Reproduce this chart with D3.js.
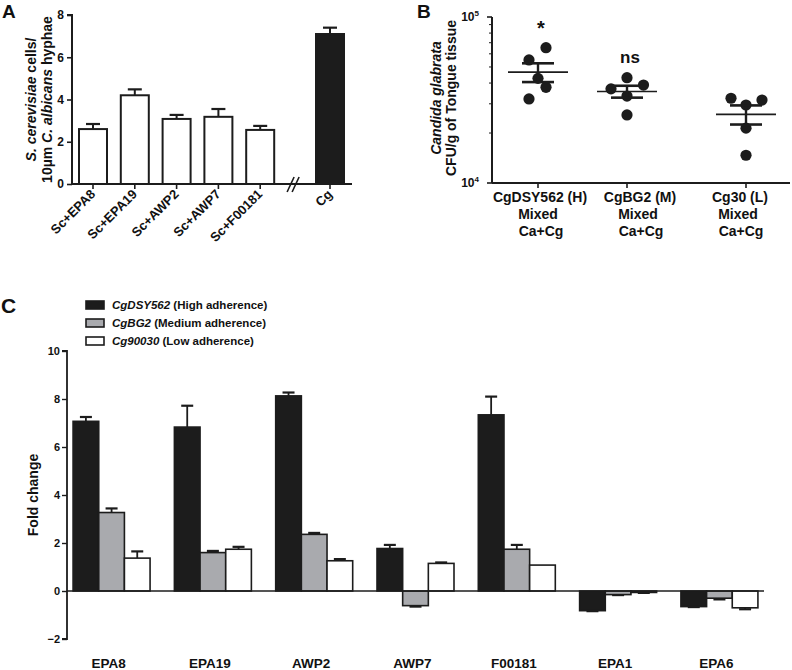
<!DOCTYPE html>
<html>
<head>
<meta charset="utf-8">
<script src="https://cdn.jsdelivr.net/npm/d3@7"></script>
<style>
  html, body { margin: 0; padding: 0; background: #fff; }
  svg { display: block; font-family: "Liberation Sans", Arial, sans-serif; }
  text { font-weight: bold; fill: #111; }
</style>
</head>
<body>
<svg id="chart" width="792" height="670"></svg>
<script>
// ---------------- DATA ----------------
// Panel A
const aCategories = ["Sc+EPA8", "Sc+EPA19", "Sc+AWP2", "Sc+AWP7", "Sc+F00181", "Cg"];
const aValues = [2.6, 4.2, 3.08, 3.18, 2.56, 7.1];
const aErrors = [0.24, 0.28, 0.19, 0.37, 0.19, 0.3];
const aYTicks = [0, 2, 4, 6, 8];

// Panel B (CFU/g of tongue tissue, log axis)
const bGroups = ["CgDSY562 (H)", "CgBG2 (M)", "Cg30 (L)"];
const bSubLines = ["Mixed", "Ca+Cg"];
const bDots = [
  [65300, 55100, 42700, 37700, 32100],
  [43100, 38900, 36900, 33400, 25700],
  [32400, 29500, 31600, 21400, 14700]
];
const bSignif = ["*", "ns", ""];
const bYTicks = [1e4, 1e5];

// Panel C
const cCategories = ["EPA8", "EPA19", "AWP2", "AWP7", "F00181", "EPA1", "EPA6"];
const cSeriesNames = ["CgDSY562", "CgBG2", "Cg90030"];
const cSeriesNotes = ["(High adherence)", "(Medium adherence)", "(Low adherence)"];
const cHigh   = [7.07, 6.83, 8.13, 1.77, 7.34, -0.82, -0.65];
const cMedium = [3.27, 1.60, 2.36, -0.61, 1.74, -0.15, -0.30];
const cLow    = [1.37, 1.74, 1.26, 1.15, 1.08, -0.06, -0.70];
const cHighErr   = [0.18, 0.89, 0.14, 0.15, 0.76, 0.02, 0.02];
const cMediumErr = [0.17, 0.07, 0.06, 0.04, 0.18, 0.02, 0.05];
const cLowErr    = [0.28, 0.10, 0.07, 0.04, 0.00, 0.02, 0.06];
const cYTicks = [-2, 0, 2, 4, 6, 8, 10];

// ---------------- LAYOUT / STYLE ----------------
const BLACK = "#1c1c1c";
const GRAY = "#a9aaae";
const svg = d3.select("#chart");

function tickLabelFont(sel, size) {
  sel.attr("font-size", size).attr("font-weight", "bold");
}

// =============== PANEL A ===============
(function () {
  const g = svg.append("g");
  const x0 = 72, y0 = 184, yTop = 15, xEnd = 352;
  const breakGap = 0.67;
  const last = aCategories.length - 1;
  const slot = aCategories.map((c, i) => i < last ? i : i + breakGap);
  const x = d3.scaleLinear().domain([0, 1]).range([93, 134.8]);
  const y = d3.scaleLinear().domain([0, 8]).range([y0, yTop]);
  const bw = 28;

  // bars
  g.selectAll("rect.bar").data(aCategories).join("rect")
    .attr("x", (d, i) => x(slot[i]) - bw / 2)
    .attr("y", (d, i) => y(aValues[i]))
    .attr("width", bw)
    .attr("height", (d, i) => y(0) - y(aValues[i]))
    .attr("fill", (d, i) => d === "Cg" ? BLACK : "#fff")
    .attr("stroke", BLACK).attr("stroke-width", 2);

  // error bars
  const eb = g.selectAll("g.err").data(aCategories).join("g");
  eb.append("line")
    .attr("x1", (d, i) => x(slot[i])).attr("x2", (d, i) => x(slot[i]))
    .attr("y1", (d, i) => y(aValues[i])).attr("y2", (d, i) => y(aValues[i] + aErrors[i]))
    .attr("stroke", BLACK).attr("stroke-width", 2);
  eb.append("line")
    .attr("x1", (d, i) => x(slot[i]) - 7).attr("x2", (d, i) => x(slot[i]) + 7)
    .attr("y1", (d, i) => y(aValues[i] + aErrors[i])).attr("y2", (d, i) => y(aValues[i] + aErrors[i]))
    .attr("stroke", BLACK).attr("stroke-width", 2.2);

  // y axis
  const yAxis = d3.axisLeft(y).tickValues(aYTicks).tickSize(5).tickPadding(3).tickFormat(d3.format("d"));
  const ya = g.append("g").attr("transform", `translate(${x0},0)`).call(yAxis);
  ya.select(".domain").attr("stroke", BLACK).attr("stroke-width", 2).attr("d", `M-5,${yTop}H0V${y0}`);
  ya.selectAll(".tick line").attr("stroke", BLACK).attr("stroke-width", 1.6);
  ya.selectAll(".tick text").call(tickLabelFont, 12).attr("fill", "#111").attr("font-family", null);

  // x axis
  g.append("line").attr("x1", x0).attr("x2", xEnd).attr("y1", y0).attr("y2", y0)
    .attr("stroke", BLACK).attr("stroke-width", 2);
  g.selectAll("line.xt").data(aCategories).join("line")
    .attr("x1", (d, i) => x(slot[i])).attr("x2", (d, i) => x(slot[i]))
    .attr("y1", y0).attr("y2", y0 + 5).attr("stroke", BLACK).attr("stroke-width", 1.6);
  g.selectAll("text.xl").data(aCategories).join("text")
    .attr("transform", (d, i) => `translate(${x(slot[i]) + 3},${y0 + 11}) rotate(-45)`)
    .attr("text-anchor", "end").attr("font-size", 13).text(d => d);

  // break marks
  const bx = (x(slot[last - 1]) + x(slot[last])) / 2 - 2;
  [-3, 2].forEach(o => {
    g.append("line").attr("x1", bx + o - 3).attr("x2", bx + o + 4)
      .attr("y1", y0 + 8).attr("y2", y0 - 7).attr("stroke", BLACK).attr("stroke-width", 1.6);
  });

  // y title
  const t = g.append("g").attr("transform", `translate(0,${(y0 + yTop) / 2}) rotate(-90)`);
  const l1 = t.append("text").attr("x", 0).attr("y", 36).attr("text-anchor", "middle").attr("font-size", 14);
  l1.append("tspan").attr("font-style", "italic").text("S. cerevisiae");
  l1.append("tspan").text(" cells/");
  const l2 = t.append("text").attr("x", 0).attr("y", 52).attr("text-anchor", "middle").attr("font-size", 14);
  l2.append("tspan").text("10\u00B5m ");
  l2.append("tspan").attr("font-style", "italic").text("C. albicans");
  l2.append("tspan").text(" hyphae");

  // panel letter
  g.append("text").attr("x", 2).attr("y", 18).attr("font-size", 19).text("A");
})();

// =============== PANEL B ===============
(function () {
  const g = svg.append("g");
  const x0 = 492, y0 = 183, yTop = 17, xEnd = 790;
  const y = d3.scaleLog().domain([1e4, 1e5]).range([y0, yTop]);
  const xl = d3.scalePoint().domain(bGroups).range([540, 740]);
  const groupShift = [-2, -13, 6];
  const jitter = [[8, -9, 0, 8, -9], [0, 16.5, -16, 0, 0], [-15, 0, 16, 0, 0]];
  const cx = (i) => xl(bGroups[i]) + groupShift[i];

  // axes
  g.append("line").attr("x1", x0).attr("x2", x0).attr("y1", yTop).attr("y2", y0)
    .attr("stroke", BLACK).attr("stroke-width", 2);
  g.append("line").attr("x1", x0).attr("x2", xEnd).attr("y1", y0).attr("y2", y0)
    .attr("stroke", BLACK).attr("stroke-width", 2);
  // major ticks
  g.selectAll("line.ymaj").data(bYTicks).join("line")
    .attr("x1", x0 - 5).attr("x2", x0).attr("y1", d => y(d)).attr("y2", d => y(d))
    .attr("stroke", BLACK).attr("stroke-width", 1.6);
  // minor ticks
  const minor = d3.range(2, 10).map(k => k * 1e4);
  g.selectAll("line.ymin").data(minor).join("line")
    .attr("x1", x0 - 3).attr("x2", x0).attr("y1", d => y(d)).attr("y2", d => y(d))
    .attr("stroke", BLACK).attr("stroke-width", 1);
  // tick labels 10^n
  const tl = g.selectAll("text.yl").data(bYTicks).join("text")
    .attr("x", x0 - 13).attr("y", d => y(d) + 4).attr("text-anchor", "end").attr("font-size", 12);
  tl.append("tspan").text("10");
  tl.append("tspan").attr("font-size", 8).attr("dy", -5).text(d => Math.round(Math.log10(d)));

  // x ticks
  g.selectAll("line.xt").data(bGroups).join("line")
    .attr("x1", (d, i) => cx(i)).attr("x2", (d, i) => cx(i))
    .attr("y1", y0).attr("y2", y0 + 5).attr("stroke", BLACK).attr("stroke-width", 1.6);
  // x labels
  bGroups.forEach((name, i) => {
    const lines = [name].concat(bSubLines);
    const shifts = [0, -2, 1];
    lines.forEach((ln, k) => {
      g.append("text").attr("x", xl(name) + shifts[k]).attr("y", y0 + 19 + k * 17)
        .attr("text-anchor", "middle").attr("font-size", 14).text(ln);
    });
  });

  // dots
  bDots.forEach((vals, i) => {
    g.selectAll(null).data(vals).join("circle")
      .attr("cx", (d, k) => cx(i) + jitter[i][k]).attr("cy", d => y(d))
      .attr("r", 5.6).attr("fill", BLACK);
    const mean = d3.mean(vals);
    const sem = d3.deviation(vals) / Math.sqrt(vals.length);
    g.append("line").attr("x1", cx(i) - 30).attr("x2", cx(i) + 30)
      .attr("y1", y(mean)).attr("y2", y(mean)).attr("stroke", BLACK).attr("stroke-width", 1.6);
    g.append("line").attr("x1", cx(i)).attr("x2", cx(i))
      .attr("y1", y(mean + sem)).attr("y2", y(mean - sem)).attr("stroke", BLACK).attr("stroke-width", 2.4);
    [mean + sem, mean - sem].forEach(v => {
      g.append("line").attr("x1", cx(i) - 16).attr("x2", cx(i) + 16)
        .attr("y1", y(v)).attr("y2", y(v)).attr("stroke", BLACK).attr("stroke-width", 2.6);
    });
    if (bSignif[i]) {
      g.append("text").attr("x", cx(i) + 3).attr("y", y(d3.max(vals)) - 15 + (bSignif[i] === "*" ? 2 : 0))
        .attr("text-anchor", "middle").attr("font-size", bSignif[i] === "*" ? 20 : 17).text(bSignif[i]);
    }
  });

  // y title
  const t = g.append("g").attr("transform", `translate(0,${(y0 + yTop) / 2 - 2}) rotate(-90)`);
  t.append("text").attr("x", 0).attr("y", 441).attr("text-anchor", "middle").attr("font-size", 14)
    .attr("font-style", "italic").text("Candida glabrata");
  t.append("text").attr("x", 0).attr("y", 456).attr("text-anchor", "middle").attr("font-size", 14)
    .text("CFU/g of Tongue tissue");

  g.append("text").attr("x", 417).attr("y", 18).attr("font-size", 19).text("B");
})();

// =============== PANEL C ===============
(function () {
  const g = svg.append("g");
  const x0 = 67, xEnd = 764;
  const y = d3.scaleLinear().domain([-2, 10]).range([639, 351]);
  const x = d3.scaleBand().domain(cCategories).range([x0, xEnd]).paddingInner(0.24).paddingOuter(0.06);
  const xs = d3.scaleBand().domain(cSeriesNames).range([0, x.bandwidth()]);
  const fills = [BLACK, GRAY, "#fff"];
  const vals = [cHigh, cMedium, cLow];
  const errs = [cHighErr, cMediumErr, cLowErr];

  cSeriesNames.forEach((s, si) => {
    cCategories.forEach((c, ci) => {
      const v = vals[si][ci], e = errs[si][ci];
      const bx = x(c) + xs(s), w = xs.bandwidth();
      const mid = bx + w / 2;
      const tip = v >= 0 ? v + e : v - e;
      if (e > 0) {
        g.append("line").attr("x1", mid).attr("x2", mid).attr("y1", y(v)).attr("y2", y(tip))
          .attr("stroke", BLACK).attr("stroke-width", 1.8);
        g.append("line").attr("x1", mid - 6).attr("x2", mid + 6).attr("y1", y(tip)).attr("y2", y(tip))
          .attr("stroke", BLACK).attr("stroke-width", 2.2);
      }
      g.append("rect").attr("x", bx).attr("width", w)
        .attr("y", y(Math.max(0, v))).attr("height", Math.abs(y(v) - y(0)))
        .attr("fill", fills[si]).attr("stroke", BLACK).attr("stroke-width", 1.6);
    });
  });

  // y axis
  const yAxis = d3.axisLeft(y).tickValues(cYTicks).tickSize(5).tickPadding(2).tickFormat(d3.format("d"));
  const ya = g.append("g").attr("transform", `translate(${x0},0)`).call(yAxis);
  ya.select(".domain").attr("stroke", BLACK).attr("stroke-width", 1.8).attr("d", `M-5,${y(10)}H0V${y(-2)}H-5`);
  ya.selectAll(".tick line").attr("stroke", BLACK).attr("stroke-width", 1.4);
  ya.selectAll(".tick text").call(tickLabelFont, 11).attr("fill", "#111").attr("font-family", null);

  // zero line
  g.append("line").attr("x1", x0).attr("x2", xEnd).attr("y1", y(0)).attr("y2", y(0))
    .attr("stroke", BLACK).attr("stroke-width", 1.6);

  // category labels
  g.selectAll("text.cl").data(cCategories).join("text")
    .attr("x", d => x(d) + x.bandwidth() / 2 - 3).attr("y", 668)
    .attr("text-anchor", "middle").attr("font-size", 13.5).text(d => d);

  // y title
  g.append("text").attr("transform", `translate(38,${(y(10) + y(-2)) / 2}) rotate(-90)`)
    .attr("text-anchor", "middle").attr("font-size", 14).text("Fold change");

  // legend
  const lg = g.append("g");
  cSeriesNames.forEach((s, i) => {
    const ly = 305 + i * 18;
    lg.append("rect").attr("x", 86).attr("y", ly - 4).attr("width", 18).attr("height", 8)
      .attr("fill", fills[i]).attr("stroke", BLACK).attr("stroke-width", 1.6);
    const t = lg.append("text").attr("x", 112).attr("y", ly + 4).attr("font-size", 11.5);
    t.append("tspan").attr("font-style", "italic").text(s);
    t.append("tspan").text(" " + cSeriesNotes[i]);
  });

  g.append("text").attr("x", 1).attr("y", 313).attr("font-size", 21).text("C");
})();
</script>
</body>
</html>
